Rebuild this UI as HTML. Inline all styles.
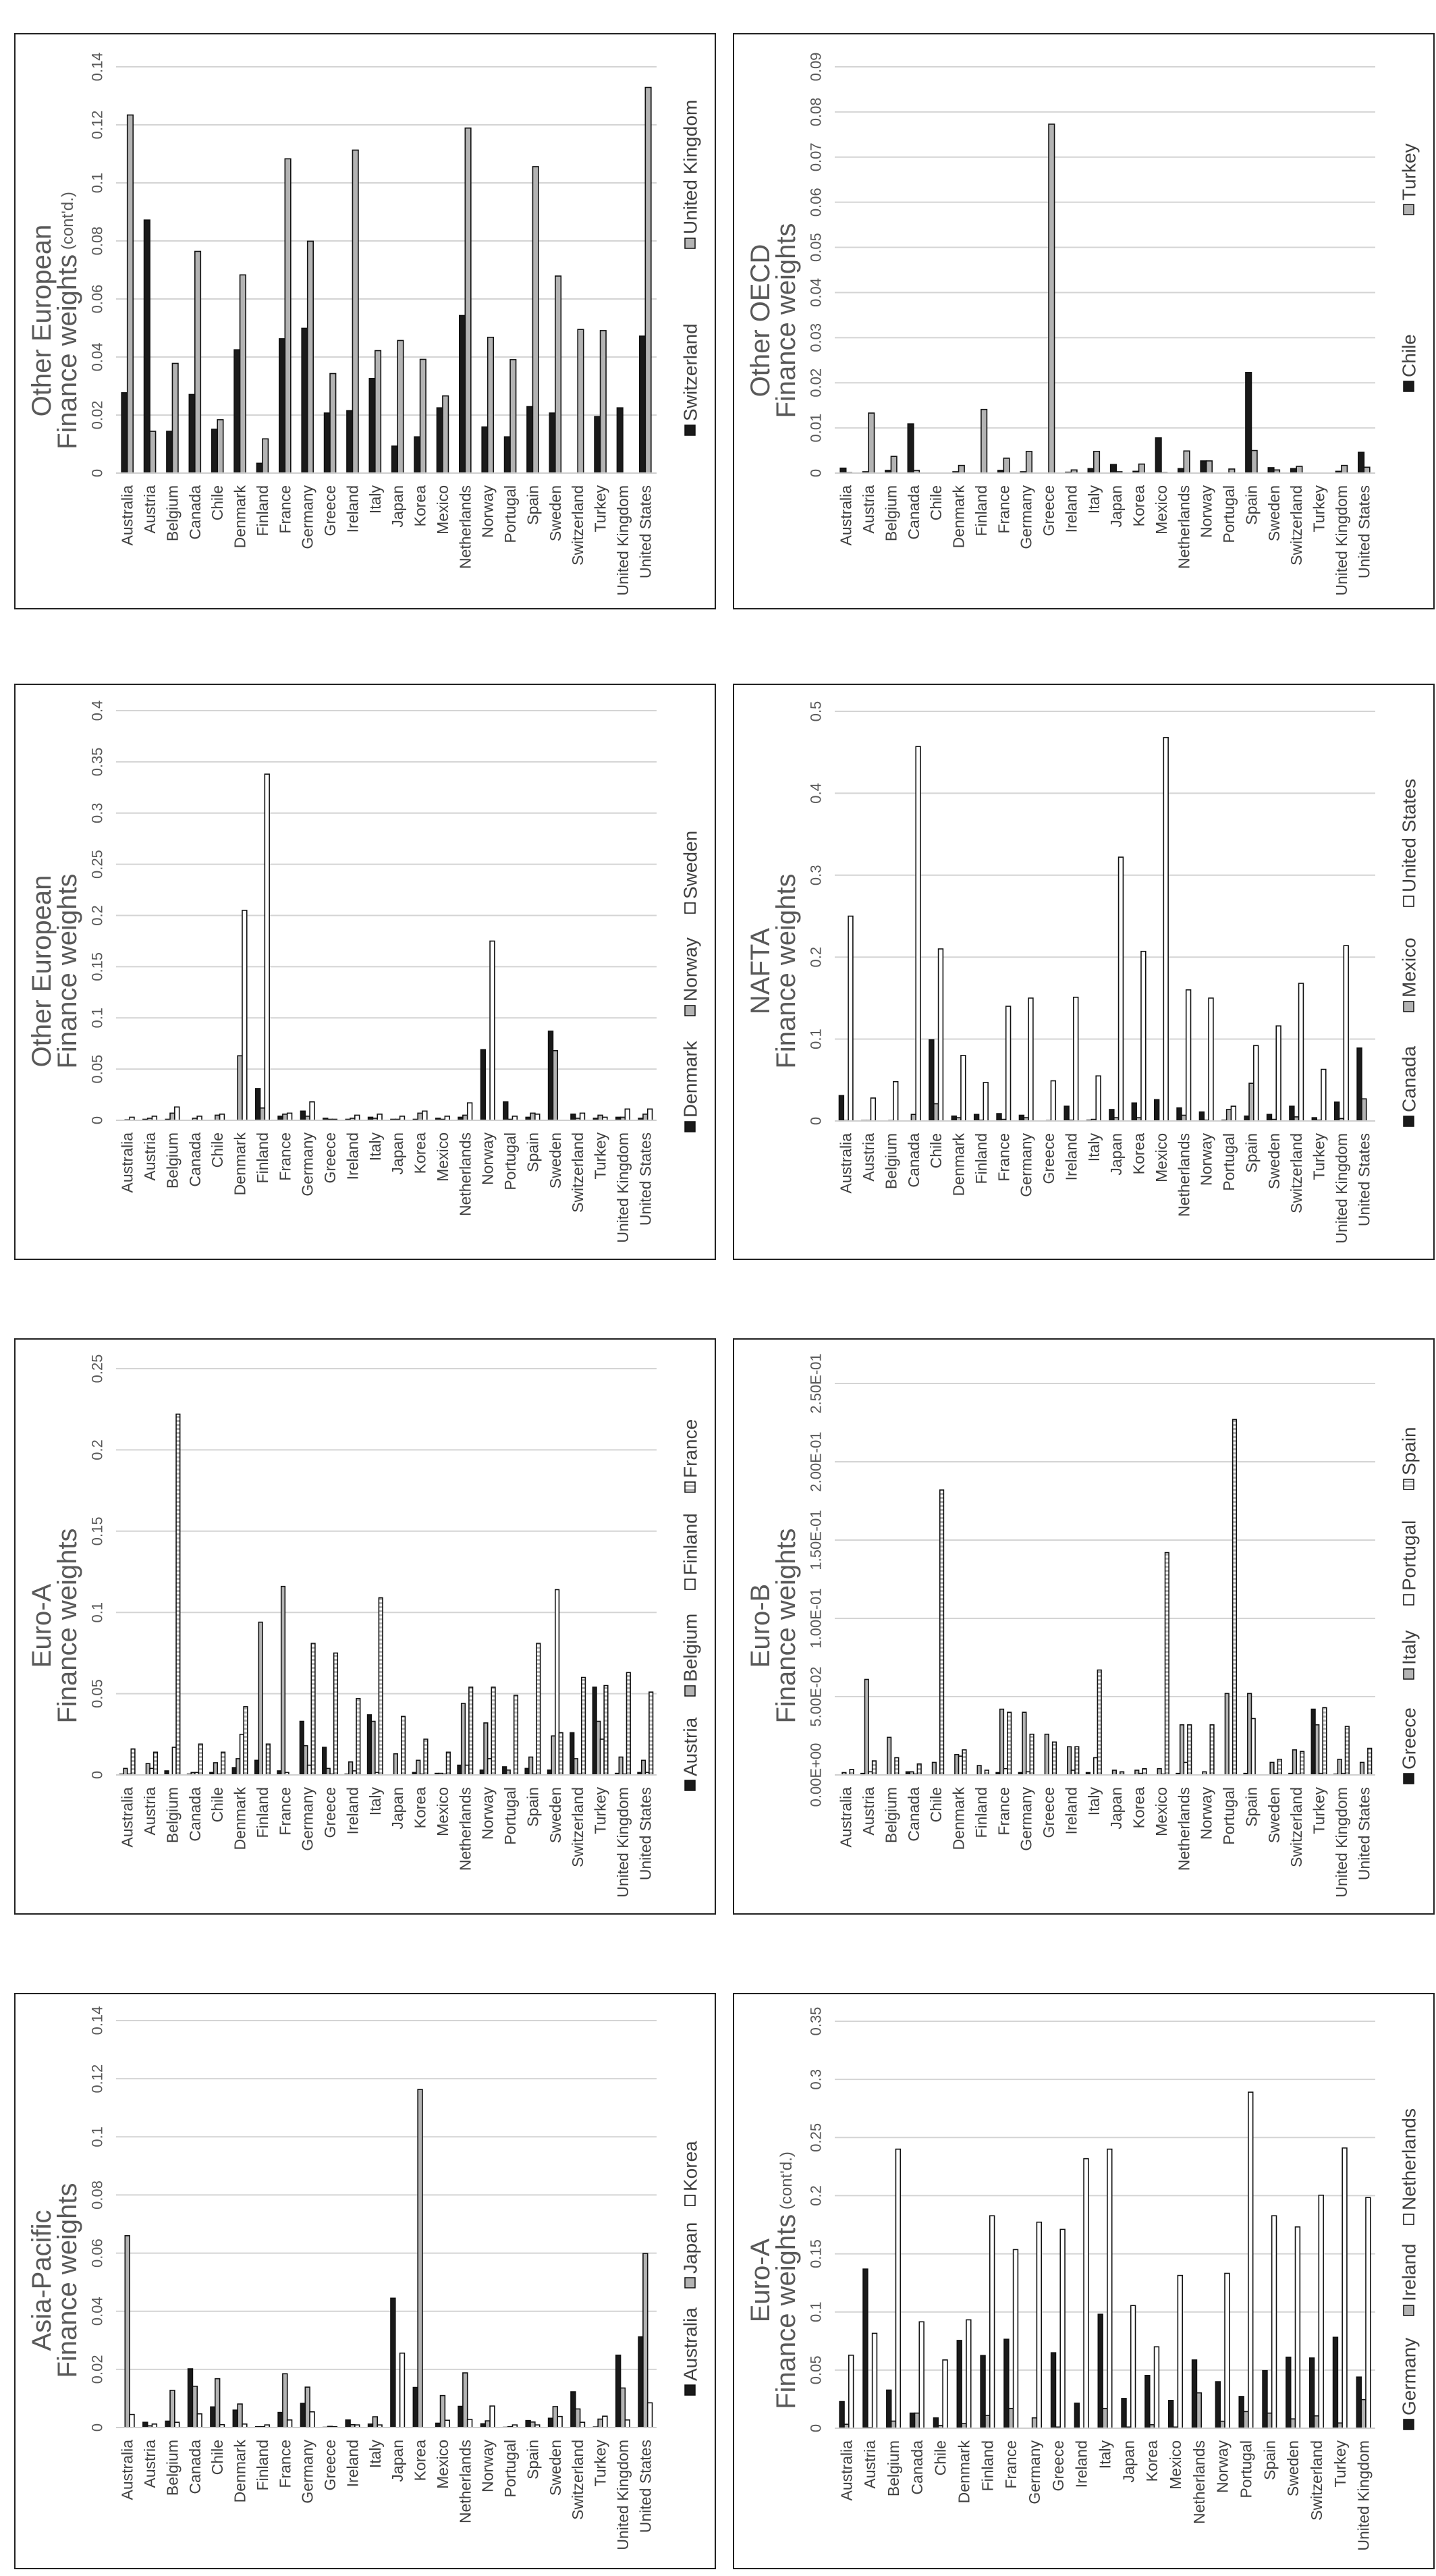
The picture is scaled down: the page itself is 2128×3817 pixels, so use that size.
<!DOCTYPE html>
<html><head><meta charset="utf-8"><style>
html,body{margin:0;padding:0;background:#fff;}
svg{display:block;font-family:"Liberation Sans",Arial,sans-serif;}
</style></head><body>
<svg id="root" width="2128" height="3817" viewBox="0 0 2128 3817" xmlns="http://www.w3.org/2000/svg">
<defs>
<pattern id="stripes" width="6" height="6" patternUnits="userSpaceOnUse"><rect width="6" height="6" fill="#fff"/><rect y="0" width="6" height="3" fill="#b0b0b0"/></pattern>
</defs>
</svg>
<script>
const countries = ["Australia","Austria","Belgium","Canada","Chile","Denmark","Finland","France","Germany","Greece","Ireland","Italy","Japan","Korea","Mexico","Netherlands","Norway","Portugal","Spain","Sweden","Switzerland","Turkey","United Kingdom","United States"];
const countriesNoUS = countries.slice(0,23);

// Chart 1: Other European (cont'd)
const oe2Switzerland = [0.0277,0.0872,0.0144,0.0271,0.0151,0.0425,0.0034,0.0463,0.0499,0.0207,0.0215,0.0326,0.0093,0.0125,0.0225,0.0543,0.0159,0.0125,0.0229,0.0207,0,0.0195,0.0225,0.0472];
const oe2UK = [0.1234,0.0144,0.0378,0.0764,0.0184,0.0683,0.0118,0.1083,0.0799,0.0343,0.1113,0.0422,0.0457,0.0392,0.0266,0.1189,0.0468,0.0391,0.1056,0.0679,0.0495,0.0491,0,0.1329];
const oe2Ticks = ["0","0.02","0.04","0.06","0.08","0.1","0.12","0.14"];

// Chart 2: Other OECD
const oecdChile = [0.0011,0.0003,0.0006,0.0109,0,0.0003,0,0.0006,0.0003,0,0.0002,0.001,0.0019,0.0004,0.0078,0.001,0.0027,0,0.0223,0.0012,0.001,0,0.0004,0.0046];
const oecdTurkey = [0.0001,0.0133,0.0037,0.0006,0,0.0017,0.0141,0.0033,0.0048,0.0773,0.0007,0.0048,0.0003,0.002,0.0001,0.0049,0.0027,0.0009,0.005,0.0007,0.0015,0,0.0017,0.0013];
const oecdTicks = ["0","0.01","0.02","0.03","0.04","0.05","0.06","0.07","0.08","0.09"];

// Chart 3: Other European
const oeDenmark = [0,0.001,0.001,0,0,0,0.031,0.004,0.009,0.002,0.001,0.003,0.001,0.001,0.002,0.003,0.069,0.018,0.003,0.087,0.006,0.002,0.003,0.002];
const oeNorway = [0.0005,0.002,0.007,0.002,0.005,0.063,0.012,0.006,0.004,0.001,0.002,0.002,0.001,0.007,0.001,0.005,0,0.001,0.007,0.068,0.002,0.005,0.003,0.006];
const oeSweden = [0.003,0.004,0.013,0.004,0.006,0.205,0.338,0.007,0.018,0.001,0.005,0.006,0.004,0.009,0.004,0.017,0.175,0.004,0.006,0,0.007,0.003,0.011,0.011];
const oeTicks = ["0","0.05","0.1","0.15","0.2","0.25","0.3","0.35","0.4"];

// Chart 4: NAFTA
const naCanada = [0.031,0.0005,0,0,0.099,0.006,0.008,0.009,0.007,0,0.018,0.001,0.014,0.022,0.026,0.016,0.011,0.001,0.006,0.008,0.018,0.004,0.023,0.089];
const naMexico = [0.0005,0.0005,0.0005,0.008,0.021,0.004,0.001,0.002,0.004,0.0005,0.001,0.002,0.004,0.004,0,0.007,0.001,0.014,0.046,0.002,0.005,0.001,0.003,0.027];
const naUS = [0.250,0.028,0.048,0.457,0.210,0.080,0.047,0.140,0.150,0.049,0.151,0.055,0.322,0.207,0.468,0.160,0.150,0.018,0.092,0.116,0.168,0.063,0.214,0];
const naTicks = ["0","0.1","0.2","0.3","0.4","0.5"];

// Chart 5: Euro-A
const eaAustria = [0.0005,0,0.0025,0.0005,0.0015,0.0045,0.009,0.0025,0.033,0.017,0.0005,0.037,0,0.0015,0.001,0.006,0.003,0.005,0.004,0.003,0.026,0.054,0.001,0.0015];
const eaBelgium = [0.004,0.007,0,0.0015,0.0075,0.010,0.094,0.116,0.018,0.004,0.008,0.033,0.013,0.009,0.001,0.044,0.032,0.003,0.011,0.024,0.010,0.033,0.011,0.009];
const eaFinland = [0.0005,0.004,0.017,0.0015,0.0005,0.025,0,0.0015,0.006,0.0005,0.0025,0.0015,0,0.0005,0.0005,0.006,0.010,0,0.0005,0.114,0.0005,0.022,0.0005,0.0015];
const eaFrance = [0.016,0.014,0.222,0.019,0.014,0.042,0.019,0,0.081,0.075,0.047,0.109,0.036,0.022,0.014,0.054,0.054,0.049,0.081,0.026,0.060,0.055,0.063,0.051];
const eaTicks = ["0","0.05","0.1","0.15","0.2","0.25"];

// Chart 6: Euro-B
const ebGreece = [0,0.001,0,0.002,0,0,0,0.0015,0.0015,0,0,0.0015,0,0,0,0.001,0,0,0.001,0,0.001,0.042,0.0005,0];
const ebItaly = [0.0015,0.061,0.024,0.002,0.008,0.013,0.006,0.042,0.040,0.026,0.018,0,0.003,0.003,0.004,0.032,0.002,0.052,0.052,0.008,0.016,0.032,0.010,0.008];
const ebPortugal = [0,0.002,0,0.0005,0,0.012,0,0.004,0.002,0,0.003,0.011,0,0.001,0.0005,0.008,0,0,0.036,0.001,0.0005,0.001,0.001,0];
const ebSpain = [0.0035,0.009,0.011,0.007,0.182,0.016,0.003,0.040,0.026,0.021,0.018,0.067,0.002,0.004,0.142,0.032,0.032,0.227,0,0.010,0.015,0.043,0.031,0.017];
const ebTicks = ["0.00E+00","5.00E-02","1.00E-01","1.50E-01","2.00E-01","2.50E-01"];

// Chart 7: Asia-Pacific
const apAustralia = [0,0.0018,0.0022,0.0202,0.0071,0.006,0.0003,0.0052,0.0083,0.0001,0.0026,0.0012,0.0445,0.0138,0.0015,0.0073,0.0013,0.0001,0.0024,0.0032,0.0123,0.0002,0.0249,0.0312];
const apJapan = [0.066,0.0006,0.0128,0.0142,0.0168,0.0081,0.0003,0.0185,0.0139,0.0004,0.001,0.0037,0,0.1163,0.011,0.0188,0.0023,0.0003,0.0019,0.0072,0.0064,0.0029,0.0136,0.0599];
const apKorea = [0.0045,0.0012,0.0018,0.0047,0.001,0.0012,0.0009,0.0026,0.0054,0.0003,0.0009,0.0009,0.0256,0,0.0025,0.0028,0.0074,0.0009,0.0009,0.0038,0.0018,0.0039,0.0026,0.0085];
const apTicks = ["0","0.02","0.04","0.06","0.08","0.1","0.12","0.14"];

// Chart 8: Euro-A (cont'd)
const ea2Germany = [0.0229,0.1369,0.0328,0.013,0.0089,0.0755,0.0625,0.0765,0,0.0649,0.0215,0.098,0.0256,0.0454,0.0239,0.0587,0.040,0.0273,0.0495,0.0611,0.0604,0.0782,0.044];
const ea2Ireland = [0.0034,0.0005,0.0061,0.013,0.0024,0.004,0.011,0.017,0.0089,0.001,0,0.017,0.001,0.003,0.001,0.0304,0.006,0.0143,0.013,0.008,0.0106,0.0045,0.0246];
const ea2Netherlands = [0.0628,0.0816,0.240,0.0915,0.0587,0.0932,0.1827,0.1536,0.1772,0.171,0.2318,0.240,0.1055,0.070,0.1314,0,0.1332,0.289,0.1827,0.1731,0.2004,0.241,0.1984];
const ea2Ticks = ["0","0.05","0.1","0.15","0.2","0.25","0.3","0.35"];

const NS = "http://www.w3.org/2000/svg";
const root = document.getElementById("root");
function mk(tag, attrs, parent){const e=document.createElementNS(NS,tag);for(const k in attrs)e.setAttribute(k,attrs[k]);(parent||root).appendChild(e);return e;}
const FILLS = {black:{fill:"#1a1a1a"},grey:{fill:"#b3b3b3"},white:{fill:"#ffffff"},stripe:{fill:"url(#stripes)"}};

function drawChart(cfg){
  const g = mk("g",{transform:"translate("+cfg.px+","+cfg.py+")"});
  
  
  const W=1038, H=852;
  const box = mk("rect",{x:0,y:0,width:W,height:H,fill:"#fff",stroke:"#222","stroke-width":2},g);
  
  
  const L=150, R=951, y0=cfg.y0, yt=cfg.yt;
  const n = cfg.cats.length;
  const cw = (R-L)/n;
  const ymax = cfg.max;
  const yScale = v => y0 - (v/ymax)*(y0-yt);
  const xCenter = i => L + cw*(i+0.5);
  // gridlines & ticks
  cfg.ticks.forEach((t,i)=>{
    const v = ymax*i/(cfg.ticks.length-1);
    const y = yScale(v);
    const gl = mk("line",{x1:L,x2:R,y1:y,y2:y,stroke:"#d4d4d4","stroke-width":2},g);
    
    
    const tx = mk("text",{x:0,y:0,transform:"translate(122,"+y+") rotate(-90)","text-anchor":"middle","dominant-baseline":"central","font-size":22,fill:"#595959"},g);
    tx.textContent = t;
    
    
  });
  // bars
  const ns = cfg.series.length;
  const bw = ns===2?8.5:(ns===3?6.8:5.6);
  cfg.series.forEach((s,si)=>{
    s.data.forEach((v,i)=>{
      const x = xCenter(i) - ns*bw/2 + si*bw;
      const y = yScale(v);
      const h = Math.max(0,y0-y);
      const r = mk("rect",{x:x,y:y,width:bw,height:h,fill:FILLS[s.style].fill,stroke:"#111","stroke-width":h>0?1.6:0},g);
      
      
    });
  });
  const ax = mk("line",{x1:L,x2:R,y1:y0,y2:y0,stroke:"#cfcfcf","stroke-width":2},g);
  
  
  // category labels
  cfg.cats.forEach((c,i)=>{
    const t = mk("text",{x:0,y:0,transform:"translate("+xCenter(i)+","+(y0+18)+") rotate(-90)","text-anchor":"end","dominant-baseline":"central","font-size":23,fill:"#404040"},g);
    t.textContent = c;
    
    
  });
  // title
  const t1 = mk("text",{x:0,y:0,transform:"translate(40,425) rotate(-90)","text-anchor":"middle","dominant-baseline":"central","font-size":40,fill:"#595959"},g);
  t1.textContent = cfg.title1;
  
  
  const t2 = mk("text",{x:0,y:0,transform:"translate(78,425) rotate(-90)","text-anchor":"middle","dominant-baseline":"central","font-size":40,fill:"#595959"},g);
  t2.textContent = "Finance weights";
  if(cfg.contd){const sp=mk("tspan",{"font-size":24},t2);sp.textContent=" (cont'd.)";}
  
  
  // legend
  cfg.series.forEach((s,si)=>{
    const ly = cfg.legend[si];
    const sq = mk("rect",{x:993,y:ly-16,width:15,height:15,fill:FILLS[s.style].fill,stroke:"#111","stroke-width":1.5},g);
    
    
    const lt = mk("text",{x:0,y:0,transform:"translate(1001,"+(ly-22)+") rotate(-90)","text-anchor":"start","dominant-baseline":"central","font-size":28,fill:"#404040"},g);
    lt.textContent = s.label;
    
    
  });
}

drawChart({name:"chart-other-european-contd",px:22,py:50,y0:651,yt:49,max:0.14,ticks:oe2Ticks,cats:countries,title1:"Other European",contd:true,
  series:[{key:"switzerland",label:"Switzerland",style:"black",data:oe2Switzerland},{key:"uk",label:"United Kingdom",style:"grey",data:oe2UK}],legend:[596,319]});
drawChart({name:"chart-other-oecd",px:1087,py:50,y0:651,yt:49,max:0.09,ticks:oecdTicks,cats:countries,title1:"Other OECD",
  series:[{key:"chile",label:"Chile",style:"black",data:oecdChile},{key:"turkey",label:"Turkey",style:"grey",data:oecdTurkey}],legend:[531,269]});
drawChart({name:"chart-other-european",px:22,py:1014,y0:646,yt:39,max:0.4,ticks:oeTicks,cats:countries,title1:"Other European",
  series:[{key:"denmark",label:"Denmark",style:"black",data:oeDenmark},{key:"norway",label:"Norway",style:"grey",data:oeNorway},{key:"sweden",label:"Sweden",style:"white",data:oeSweden}],legend:[664,492,340]});
drawChart({name:"chart-nafta",px:1087,py:1014,y0:647,yt:40,max:0.5,ticks:naTicks,cats:countries,title1:"NAFTA",
  series:[{key:"canada",label:"Canada",style:"black",data:naCanada},{key:"mexico",label:"Mexico",style:"grey",data:naMexico},{key:"us",label:"United States",style:"white",data:naUS}],legend:[656,486,330]});
drawChart({name:"chart-euro-a",px:22,py:1984,y0:646,yt:44,max:0.25,ticks:eaTicks,cats:countries,title1:"Euro-A",
  series:[{key:"austria",label:"Austria",style:"black",data:eaAustria},{key:"belgium",label:"Belgium",style:"grey",data:eaBelgium},{key:"finland",label:"Finland",style:"white",data:eaFinland},{key:"france",label:"France",style:"stripe",data:eaFrance}],legend:[670,530,372,228]});
drawChart({name:"chart-euro-b",px:1087,py:1984,y0:646,yt:66,max:0.25,ticks:ebTicks,cats:countries,title1:"Euro-B",
  series:[{key:"greece",label:"Greece",style:"black",data:ebGreece},{key:"italy",label:"Italy",style:"grey",data:ebItaly},{key:"portugal",label:"Portugal",style:"white",data:ebPortugal},{key:"spain",label:"Spain",style:"stripe",data:ebSpain}],legend:[660,505,395,224]});
drawChart({name:"chart-asia-pacific",px:22,py:2954,y0:643,yt:40,max:0.14,ticks:apTicks,cats:countries,title1:"Asia-Pacific",
  series:[{key:"australia",label:"Australia",style:"black",data:apAustralia},{key:"japan",label:"Japan",style:"grey",data:apJapan},{key:"korea",label:"Korea",style:"white",data:apKorea}],legend:[596,437,315]});
drawChart({name:"chart-euro-a-contd",px:1087,py:2954,y0:644,yt:41,max:0.35,ticks:ea2Ticks,cats:countriesNoUS,title1:"Euro-A",contd:true,
  series:[{key:"germany",label:"Germany",style:"black",data:ea2Germany},{key:"ireland",label:"Ireland",style:"grey",data:ea2Ireland},{key:"netherlands",label:"Netherlands",style:"white",data:ea2Netherlands}],legend:[647,478,343]});
</script>
</body></html>
